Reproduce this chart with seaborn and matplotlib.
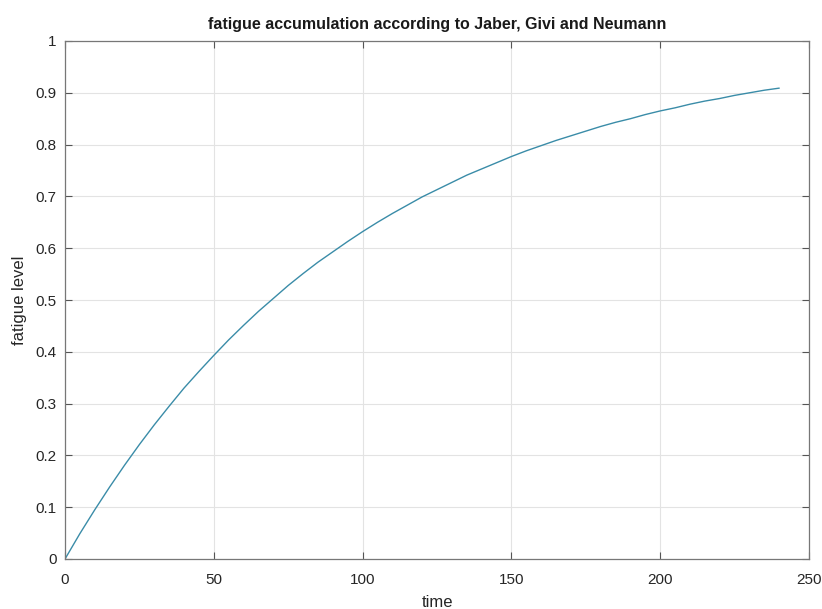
import matplotlib
matplotlib.use("Agg")
import matplotlib.pyplot as plt
import seaborn as sns
import pandas as pd

time = [0, 5, 10, 15, 20, 25, 30, 35, 40, 45, 50, 55, 60, 65, 70, 75, 80,
        85, 90, 95, 100, 105, 110, 115, 120, 125, 130, 135, 140, 145, 150,
        155, 160, 165, 170, 175, 180, 185, 190, 195, 200, 205, 210, 215,
        220, 225, 230, 235, 240]
fatigue = [0.0, 0.049, 0.095, 0.139, 0.181, 0.221, 0.259, 0.295, 0.330,
           0.362, 0.393, 0.423, 0.451, 0.478, 0.503, 0.528, 0.551, 0.573,
           0.593, 0.613, 0.632, 0.650, 0.667, 0.683, 0.699, 0.713, 0.727,
           0.741, 0.753, 0.765, 0.777, 0.788, 0.798, 0.808, 0.817, 0.826,
           0.835, 0.843, 0.850, 0.858, 0.865, 0.871, 0.878, 0.884, 0.889,
           0.895, 0.900, 0.905, 0.909]
xticks = [0, 50, 100, 150, 200, 250]
yticks = [0, 0.1, 0.2, 0.3, 0.4, 0.5, 0.6, 0.7, 0.8, 0.9, 1]
ytick_labels = ["0", "0.1", "0.2", "0.3", "0.4", "0.5", "0.6", "0.7", "0.8", "0.9", "1"]

sns.set_style("white")
plt.rcParams['font.family'] = ['Liberation Sans', 'DejaVu Sans']

df = pd.DataFrame({"time": time, "fatigue": fatigue})

fig = plt.figure(figsize=(8.22, 6.09), dpi=100)
ax = fig.add_axes([65/822, 1 - 559/609, (809 - 65)/822, (559 - 41)/609])

sns.lineplot(data=df, x="time", y="fatigue", ax=ax, color="#3a8ca8", linewidth=1.0)

ax.set_xlim(0, 250)
ax.set_ylim(0, 1)
ax.set_xticks(xticks)
ax.set_xticklabels([str(v) for v in xticks])
ax.set_yticks(yticks)
ax.set_yticklabels(ytick_labels)
ax.grid(True, color="#e3e3e3", linewidth=0.8)
ax.set_axisbelow(True)
ax.tick_params(direction="in", length=5, width=0.8, colors="#555555",
               labelcolor="#262626", labelsize=11, top=True, right=True,
               bottom=True, left=True, labeltop=False, labelright=False)
ax.tick_params(axis="x", pad=10)
ax.tick_params(axis="y", pad=6)
for s in ax.spines.values():
    s.set_color("#777777")
    s.set_linewidth(0.9)

ax.set_xlabel("time", fontsize=12, color="#262626", labelpad=6)
ax.set_ylabel("fatigue level", fontsize=12, color="#262626", labelpad=6)
ax.set_title("fatigue accumulation according to Jaber, Givi and Neumann",
             fontsize=11.5, fontweight="bold", color="#1a1a1a", pad=9)

fig.savefig("out.png", dpi=100)
